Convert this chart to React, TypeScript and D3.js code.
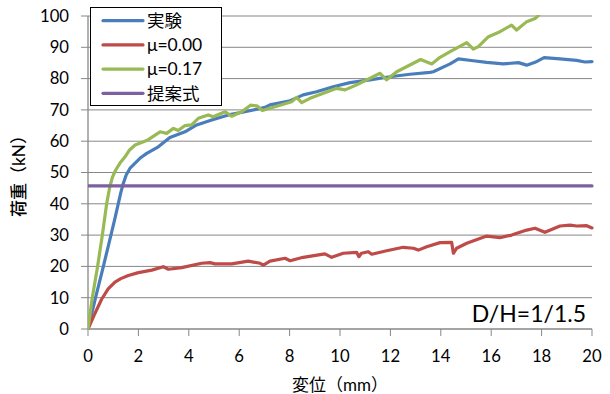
import React from "react";
import * as d3 from "d3";

const W = 610;
const H = 394;

const xTicks = [0, 2, 4, 6, 8, 10, 12, 14, 16, 18, 20];
const yTicks = [0, 10, 20, 30, 40, 50, 60, 70, 80, 90, 100];

const seriesNames = ["実験", "μ=0.00", "μ=0.17", "提案式"];
const seriesColors = ["#4A7EBB", "#BE4B48", "#98B954", "#7D60A0"];

const experiment: [number, number][] = [
  [0, 0], [0.3, 10], [0.61, 20], [0.91, 30], [1.06, 35], [1.2, 40], [1.3, 43.5], [1.4, 46.5],
  [1.52, 49.3], [1.68, 51.5], [1.87, 53], [2.1, 54.8], [2.33, 56.1], [2.79, 58.2],
  [3.25, 61.2], [3.85, 63], [4.31, 65.2], [4.91, 66.8], [5.57, 68.4], [6.23, 69.4],
  [7.02, 70.8], [7.22, 71.6], [8.02, 72.9], [8.54, 74.8], [9.07, 75.8], [9.73, 77.4],
  [10.4, 78.7], [11.19, 79.6], [11.98, 80.6], [12.78, 81.4], [13.57, 82], [13.7, 82.2],
  [14.37, 84.7], [14.7, 86.3], [15.29, 85.7], [15.82, 85.2], [16.48, 84.7], [17.08, 85.1],
  [17.41, 84.3], [17.74, 85.2], [18.1, 86.7], [18.73, 86.3], [19.39, 85.8], [19.72, 85.3],
  [20, 85.4],
];

const mu000: [number, number][] = [
  [0, 0], [0.25, 4.5], [0.54, 9.5], [0.8, 12.8], [1.07, 15], [1.3, 16.1], [1.6, 17.1],
  [2.0, 18], [2.53, 18.8], [2.99, 19.9], [3.19, 19.1], [3.72, 19.6], [4.51, 21],
  [4.84, 21.2], [5.04, 20.8], [5.7, 20.8], [6.36, 21.7], [6.83, 21], [6.96, 20.4],
  [7.22, 21.7], [7.82, 22.6], [8.02, 21.8], [8.54, 22.9], [9.4, 24], [9.67, 22.9],
  [10.13, 24.2], [10.66, 24.5], [10.75, 23.1], [10.85, 24.2], [11.12, 24.7], [11.26, 23.9],
  [11.85, 25], [12.51, 26.1], [12.91, 25.8], [13.11, 25.2], [13.44, 26.3], [13.97, 27.6],
  [14.43, 27.7], [14.5, 24.2], [14.63, 25.8], [15.03, 27.4], [15.82, 29.7], [16.35, 29.2],
  [16.81, 30], [17.41, 31.6], [17.74, 32.2], [18.13, 30.9], [18.73, 32.9], [19.13, 33.2],
  [19.39, 32.9], [19.79, 33], [20, 32.3],
];

const mu017: [number, number][] = [
  [0, 0], [0.17, 10], [0.38, 20], [0.57, 30], [0.74, 40], [0.86, 45.2], [0.97, 48.5],
  [1.1, 50.8], [1.27, 53], [1.47, 55], [1.65, 57.2], [1.87, 58.8], [2.33, 60.2],
  [2.86, 63], [3.12, 62.5], [3.39, 64.1], [3.58, 63.4], [3.85, 65], [4.11, 65.2],
  [4.38, 67.3], [4.77, 68.4], [4.97, 67.8], [5.44, 69.4], [5.7, 68], [6.1, 69.4],
  [6.45, 71.5], [6.7, 71.3], [6.92, 69.8], [7.22, 70.5], [8.08, 72.6], [8.28, 74],
  [8.48, 72.3], [8.81, 73.7], [9.87, 76.9], [10.2, 76.4], [10.66, 78], [11.59, 81.7],
  [11.85, 79.6], [12.25, 82.2], [13.2, 86.1], [13.64, 84.7], [13.97, 86.8], [14.37, 88.6],
  [15.03, 91.5], [15.29, 89.4], [15.49, 90.2], [15.89, 93.4], [16.28, 94.7], [16.81, 97.1],
  [17.01, 95.5], [17.41, 98.2], [17.74, 99.2], [17.9, 100.3],
];

const proposed: [number, number][] = [[0, 45.7], [20, 45.7]];

const allSeries = [experiment, mu000, mu017, proposed];

const FONT = "Lato, 'Noto Sans CJK JP', sans-serif";

export default function App() {
  const x = d3.scaleLinear().domain([0, 20]).range([88, 592]);
  const y = d3.scaleLinear().domain([0, 100]).range([329, 16]);
  const line = d3
    .line<[number, number]>()
    .x((d) => x(d[0]))
    .y((d) => y(d[1]));

  const grid = "#878787";

  return (
    <svg
      width={W}
      height={H}
      style={{ position: "fixed", left: 0, top: 0, background: "#fff" }}
      fontFamily={FONT}
    >
      <rect x={0} y={0} width={W} height={H} fill="#fff" />
      <defs>
        <clipPath id="plot">
          <rect x={x(0)} y={y(100) - 1} width={x(20) - x(0) + 2} height={y(0) - y(100) + 2} />
        </clipPath>
      </defs>
      {yTicks.map((t) => (
        <g key={"y" + t}>
          {t > 0 && (
            <line x1={x(0)} x2={x(20)} y1={y(t)} y2={y(t)} stroke={grid} strokeWidth={1} />
          )}
          <line x1={x(0) - 7} x2={x(0)} y1={y(t)} y2={y(t)} stroke={grid} strokeWidth={1} />
          <text x={69} y={y(t)} dy="0.35em" textAnchor="end" fontSize={16.7} fill="#000">
            {t}
          </text>
        </g>
      ))}
      <line x1={x(0)} x2={x(0)} y1={y(100)} y2={y(0)} stroke={grid} strokeWidth={1.3} />
      <line x1={x(0)} x2={x(20)} y1={y(0)} y2={y(0)} stroke={grid} strokeWidth={1.3} />
      {xTicks.map((t) => (
        <g key={"x" + t}>
          <line x1={x(t)} x2={x(t)} y1={y(0)} y2={y(0) + 7} stroke={grid} strokeWidth={1} />
          <text x={x(t)} y={362} textAnchor="middle" fontSize={16.7} fill="#000">
            {t}
          </text>
        </g>
      ))}
      <g clipPath="url(#plot)">
        {allSeries.map((s, i) => (
          <path
            key={"s" + i}
            d={line(s) || ""}
            fill="none"
            stroke={seriesColors[i]}
            strokeWidth={3.2}
            strokeLinejoin="round"
            strokeLinecap="round"
          />
        ))}
      </g>
      <text x={586} y={322} textAnchor="end" fontSize={23} fill="#000">
        D/H=1/1.5
      </text>
      <g>
        <rect x={90.5} y={7.5} width={131} height={98} fill="#fff" stroke="#000" strokeWidth={1} />
        {seriesNames.map((n, i) => (
          <g key={"l" + i}>
            <line
              x1={103}
              x2={143}
              y1={20.7 + i * 24.2}
              y2={20.7 + i * 24.2}
              stroke={seriesColors[i]}
              strokeWidth={3.2}
              strokeLinecap="round"
            />
            <text x={147} y={20.7 + i * 24.2} dy="0.36em" fontSize={17.5} fill="#000">
              {n}
            </text>
          </g>
        ))}
      </g>
      <text x={340} y={391} textAnchor="middle" fontSize={17} fill="#000">
        変位（mm）
      </text>
      <text
        transform={`translate(25,172) rotate(-90)`}
        textAnchor="middle"
        fontSize={17}
        fontWeight={500}
        fill="#000"
      >
        荷重（kN）
      </text>
    </svg>
  );
}
